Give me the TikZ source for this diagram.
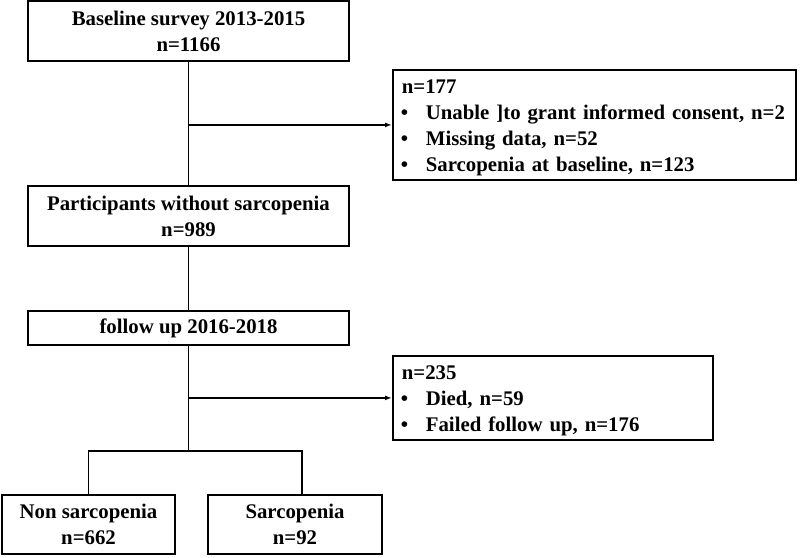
\documentclass[tikz,border=0pt]{standalone}
\usepackage{fontspec}
\setmainfont{Liberation Serif}
\usetikzlibrary{arrows.meta, positioning, calc}
\tikzset{
  >={Latex[length=7pt, width=5pt]}
}
\newcommand{\bulitem}{\hspace*{5pt}\makebox[24pt][l]{\hspace*{-1pt}\textbullet}}
\newcommand{\firstline}{\hspace*{5pt}\rule{0pt}{20pt}}

\begin{document}
\begin{tikzpicture}[x=1pt, y=-1pt, font=\fontsize{20.8}{26}\selectfont\bfseries,
    box/.style={draw, line width=1.8pt, inner sep=0pt, align=center},
    side/.style={draw, line width=1.8pt, inner xsep=4pt, inner ysep=0pt,
        align=left, anchor=north west},
    line/.style={line width=1.8pt}]
    \useasboundingbox (0, 0) rectangle (800, 557);
    % main column
    \node[box, minimum width=321pt, minimum height=60pt] (base) at (188.5, 31)
        {Baseline survey 2013-2015\\n=1166};
    \node[box, minimum width=321pt, minimum height=60pt] (parts) at (188.5, 216)
        {Participants without sarcopenia\\n=989};
    \node[box, minimum width=321pt, minimum height=34pt] (follow) at (188.5, 328)
        {follow up 2016-2018};
    % outcome
    \node[box, minimum width=173pt, minimum height=59pt] (non) at (88.5, 524.5)
        {Non sarcopenia\\n=662};
    \node[box, minimum width=174pt, minimum height=59pt] (sarc) at (295, 524.5)
        {Sarcopenia\\n=92};
    % exclusions
    \node[side, text width=395pt, minimum height=110pt] (excl1) at (392, 69)
        {\firstline n=177\\
         \bulitem Unable ]to grant informed consent, n=2\\
         \bulitem Missing data, n=52\\
         \bulitem Sarcopenia at baseline, n=123};
    \node[side, text width=312pt, minimum height=84pt] (excl2) at (392, 355)
        {\firstline n=235\\
         \bulitem Died, n=59\\
         \bulitem Failed follow up, n=176};
    % connectors
    \coordinate (j1) at (base.south |- excl1.west);
    \coordinate (j2) at (follow.south |- excl2.west);
    \coordinate (split) at (188.5, 451);
    \coordinate (left) at (non.north |- split);
    \coordinate (right) at (302, 451);
    \draw[line] (base) -- (parts);
    \draw[line] (parts) -- (follow);
    \draw[line, ->] (j1) -- (excl1.west);
    \draw[line] (follow) -- (split);
    \draw[line, ->] (j2) -- (excl2.west);
    \draw[line] (non.north) -- (left) -- (right) -- (right |- sarc.north);
\end{tikzpicture}
\end{document}
